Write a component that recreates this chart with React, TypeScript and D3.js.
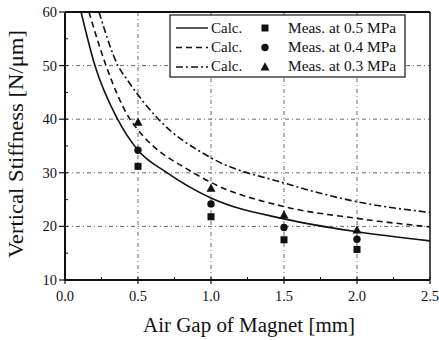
import React from "react";
import * as d3 from "d3";

const xTicks = [0, 0.5, 1.0, 1.5, 2.0, 2.5];
const yTicks = [10, 20, 30, 40, 50, 60];
const gapMeas = [0.5, 1.0, 1.5, 2.0];
const meas05 = [31.2, 21.8, 17.5, 15.7];
const meas04 = [34.2, 24.2, 19.8, 17.6];
const meas03 = [39.4, 27.1, 22.1, 19.3];

const calc05X = [0.11, 0.205, 0.36, 0.5, 0.7, 1.0, 1.5, 2.0, 2.5];
const calc05Y = [60, 50, 40, 34.2, 30, 25.3, 21.4, 19.0, 17.3];
const calc04X = [0.164, 0.281, 0.445, 0.5, 0.88, 1.0, 1.5, 2.0, 2.5];
const calc04Y = [60, 50, 40, 38.0, 30, 28.2, 23.7, 21.5, 19.9];
const calc03X = [0.233, 0.363, 0.43, 0.64, 1.0, 1.5, 2.0, 2.5];
const calc03Y = [60, 50, 47.2, 40, 32.8, 28.1, 24.6, 22.6];

const legendLabels = ["Meas. at 0.5 MPa", "Meas. at 0.4 MPa", "Meas. at 0.3 MPa"];

const W = 439, H = 340;
const m = { left: 65, right: 430, top: 12, bottom: 280 };

export default function App() {
  const x = d3.scaleLinear().domain([0, 2.5]).range([m.left, m.right]);
  const y = d3.scaleLinear().domain([10, 60]).range([m.bottom, m.top]);
  const line = d3
    .line<[number, number]>()
    .x((d) => x(d[0]))
    .y((d) => y(d[1]))
    .curve(d3.curveMonotoneX);
  const zip = (a: number[], b: number[]) => a.map((v, i) => [v, b[i]] as [number, number]);
  const curves = [
    { d: zip(calc05X, calc05Y), dash: "none" },
    { d: zip(calc04X, calc04Y), dash: "6,4" },
    { d: zip(calc03X, calc03Y), dash: "7,3,2,3" },
  ];
  const font = "'Liberation Serif', 'Times New Roman', serif";
  const minorX = d3.range(0, 2.51, 0.25);
  const minorY = d3.range(10, 60.1, 5);

  const square = (cx: number, cy: number, k: string) => (
    <rect key={k} x={cx - 3.5} y={cy - 3.5} width={7} height={7} fill="#111" />
  );
  const circle = (cx: number, cy: number, k: string) => (
    <circle key={k} cx={cx} cy={cy} r={3.7} fill="#111" />
  );
  const tri = (cx: number, cy: number, k: string) => (
    <path key={k} d={`M${cx},${cy - 4.8}L${cx + 4.5},${cy + 3.4}L${cx - 4.5},${cy + 3.4}Z`} fill="#111" />
  );
  const markers = [square, circle, tri];
  const meas = [meas05, meas04, meas03];

  const legX = 170, legY = 15, legW = 235, legH = 62;
  const rowY = [33, 51.5, 71];
  const lineY = [28, 47.5, 67];

  return (
    <svg width={W} height={H} style={{ position: "absolute", left: 0, top: 0, background: "#fff" }}>
      <defs>
        <clipPath id="plot">
          <rect x={m.left} y={m.top} width={m.right - m.left} height={m.bottom - m.top} />
        </clipPath>
      </defs>
      {/* grid */}
      {xTicks.slice(1, 5).map((t) => (
        <line key={"gx" + t} x1={x(t)} x2={x(t)} y1={m.top} y2={m.bottom} stroke="#444" strokeWidth={0.8} strokeDasharray="4,3,1,3" />
      ))}
      {yTicks.slice(1, 5).map((t) => (
        <line key={"gy" + t} x1={m.left} x2={m.right} y1={y(t)} y2={y(t)} stroke="#444" strokeWidth={0.8} strokeDasharray="4,3,1,3" />
      ))}
      {/* curves */}
      <g clipPath="url(#plot)">
        {curves.map((c, i) => (
          <path key={"c" + i} d={line(c.d) || ""} fill="none" stroke="#111" strokeWidth={1.6} strokeDasharray={c.dash} />
        ))}
      </g>
      {/* markers */}
      {meas.map((s, si) => s.map((v, i) => markers[si](x(gapMeas[i]), y(v), `m${si}-${i}`)))}
      {/* frame */}
      <line x1={m.left} x2={m.right} y1={m.top} y2={m.top} stroke="#111" strokeWidth={2} />
      <line x1={m.right} x2={m.right} y1={m.top} y2={m.bottom} stroke="#111" strokeWidth={1.5} />
      <line x1={m.left} x2={m.left} y1={m.top} y2={m.bottom + 1} stroke="#111" strokeWidth={2} />
      <line x1={m.left - 1} x2={m.right} y1={m.bottom} y2={m.bottom} stroke="#111" strokeWidth={2} />
      {/* ticks */}
      {minorX.map((t) => (
        <line key={"mx" + t} x1={x(t)} x2={x(t)} y1={m.bottom} y2={m.bottom - 3} stroke="#111" strokeWidth={1} />
      ))}
      {minorY.map((t) => (
        <line key={"my" + t} x1={m.left} x2={m.left + 3} y1={y(t)} y2={y(t)} stroke="#111" strokeWidth={1} />
      ))}
      {xTicks.map((t) => (
        <g key={"tx" + t}>
          <line x1={x(t)} x2={x(t)} y1={m.bottom} y2={m.bottom + 4} stroke="#111" strokeWidth={1.2} />
          <text x={x(t)} y={m.bottom + 21} textAnchor="middle" fontFamily={font} fontSize={14.5} fill="#111">
            {t.toFixed(1)}
          </text>
        </g>
      ))}
      {yTicks.map((t) => (
        <g key={"ty" + t}>
          <line x1={m.left - 6} x2={m.left} y1={y(t)} y2={y(t)} stroke="#111" strokeWidth={1.2} />
          <text x={m.left - 8} y={y(t) + 5} textAnchor="end" fontFamily={font} fontSize={14.5} fill="#111">
            {t}
          </text>
        </g>
      ))}
      {/* axis titles */}
      <text x={249} y={332} textAnchor="middle" fontFamily={font} fontSize={20.5} fill="#111" textLength={212} lengthAdjust="spacingAndGlyphs">
        Air Gap of Magnet [mm]
      </text>
      <text
        transform={`translate(23,${144}) rotate(-90)`}
        textAnchor="middle"
        fontFamily={font}
        fontSize={20}
        fill="#111"
        textLength={228}
        lengthAdjust="spacingAndGlyphs"
      >
        Vertical Stiffness [N/μm]
      </text>
      {/* legend */}
      <rect x={legX} y={legY} width={legW} height={legH} fill="#fff" stroke="#111" strokeWidth={1.2} />
      {rowY.map((ry, i) => (
        <g key={"leg" + i}>
          <line x1={176} x2={208} y1={lineY[i]} y2={lineY[i]} stroke="#111" strokeWidth={1.4} strokeDasharray={curves[i].dash} />
          <text x={211} y={ry} fontFamily={font} fontSize={15} fill="#111">
            Calc.
          </text>
          {markers[i](265, lineY[i], "lm" + i)}
          <text x={288} y={ry} fontFamily={font} fontSize={15} fill="#111" textLength={108} lengthAdjust="spacingAndGlyphs">
            {legendLabels[i]}
          </text>
        </g>
      ))}
    </svg>
  );
}
